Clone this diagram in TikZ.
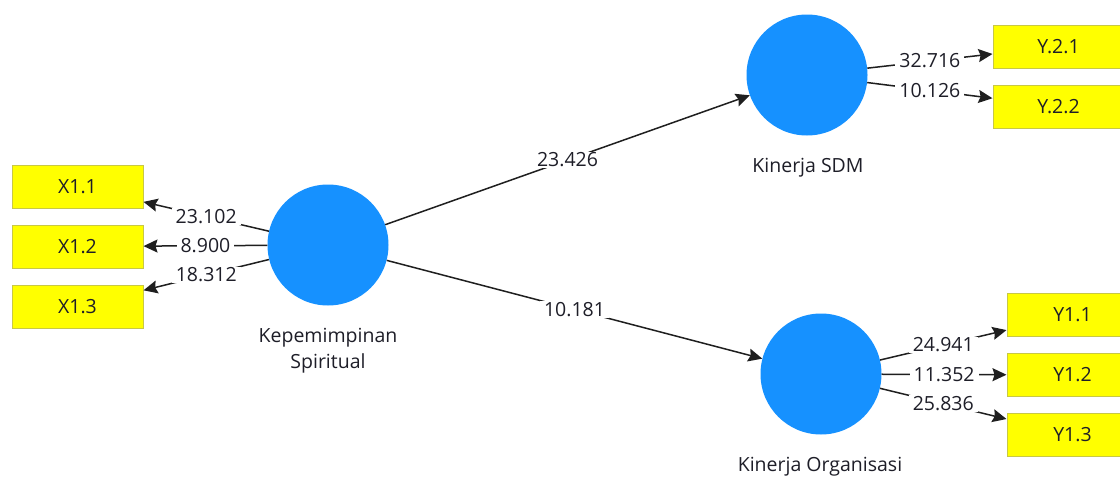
\documentclass[tikz,border=0pt]{standalone}
\usepackage{fontspec}
\setmainfont{Open Sans}
\usetikzlibrary{arrows.meta}
\definecolor{lvblue}{RGB}{22,145,255}
\definecolor{indyellow}{RGB}{255,255,0}
\definecolor{indborder}{RGB}{200,200,70}
\definecolor{txt}{RGB}{30,30,40}
\begin{document}
\begin{tikzpicture}[x=1pt,y=-1pt,
  font=\fontsize{19.5}{26}\selectfont, text=txt,
  ind/.style={rectangle, draw=indborder, fill=indyellow, line width=1pt,
    minimum width=131pt, minimum height=43pt, inner sep=0pt},
  lv/.style={circle, fill=lvblue, minimum size=121pt, inner sep=0pt},
  conn/.style={draw=black!88, line width=1.5pt,
    -{Stealth[length=14pt,width=13pt,inset=2pt]}},
  coef/.style={fill=white, inner xsep=4pt, inner ysep=1pt, midway}]
\path[use as bounding box, clip] (0,0) rectangle (1120,477);
\fill[white] (0,0) rectangle (1120,477);
% latent variables
\node[lv] (ks) at (328,245) {};
\node[lv] (sdm) at (807,75) {};
\node[lv] (org) at (821,374) {};
% indicators
\node[ind] (x1) at (77.5,186.5) {X1.1};
\node[ind] (x2) at (77.5,246.5) {X1.2};
\node[ind] (x3) at (77.5,306.5) {X1.3};
\node[ind] (y21) at (1058.5,46.5) {Y.2.1};
\node[ind] (y22) at (1058.5,106.5) {Y.2.2};
\node[ind] (y11) at (1072.5,314.5) {Y1.1};
\node[ind] (y12) at (1072.5,375) {Y1.2};
\node[ind] (y13) at (1072.5,435) {Y1.3};
% names
\node[align=center] (ksl) at (328,351) {Kepemimpinan\\Spiritual};
\node (sdml) at (808,168) {Kinerja SDM};
\node (orgl) at (820,467) {Kinerja Organisasi};
% connectors
\draw[conn] (ks) -- node[coef]{23.426} (sdm);
\draw[conn] (ks) -- node[coef]{10.181} (org);
\draw[conn] (ks) -- node[coef]{23.102} (x1);
\draw[conn] (ks) -- node[coef]{8.900} (x2);
\draw[conn] (ks) -- node[coef]{18.312} (x3);
\draw[conn] (sdm) -- node[coef]{32.716} (y21);
\draw[conn] (sdm) -- node[coef]{10.126} (y22);
\draw[conn] (org) -- node[coef]{24.941} (y11);
\draw[conn] (org) -- node[coef]{11.352} (y12);
\draw[conn] (org) -- node[coef]{25.836} (y13);
\end{tikzpicture}
\end{document}
